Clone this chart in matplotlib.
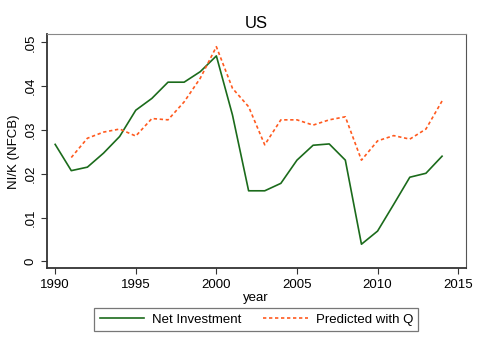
import matplotlib
matplotlib.use("Agg")
import matplotlib.pyplot as plt

plt.rcParams['font.family'] = ['Liberation Sans', 'DejaVu Sans']

# data
years = list(range(1990, 2015))
net_investment = [.0267, .0207, .0215, .0247, .0285, .0345, .0372, .0409, .0409,
                  .0433, .0469, .0334, .0161, .0161, .0178, .0231, .0265, .0268,
                  .0231, .0039, .0069, .0130, .0192, .0201, .0240]
pred_years = list(range(1991, 2015))
predicted_q = [.0237, .0281, .0295, .0302, .0286, .0326, .0323, .0364, .0418,
               .0490, .0395, .0353, .0266, .0323, .0323, .0311, .0323, .0330,
               .0231, .0275, .0287, .0279, .0302, .0366]
xticks = [1990, 1995, 2000, 2005, 2010, 2015]
yticks = [0, .01, .02, .03, .04, .05]
ytick_labels = ['0', '.01', '.02', '.03', '.04', '.05']

fig = plt.figure(figsize=(4.79, 3.48), dpi=100)
ax = fig.add_axes([0.098, 0.229, 0.874, 0.672])

ax.plot(years, net_investment, color='#1b6b1b', lw=1.2, label='Net Investment')
ax.plot(pred_years, predicted_q, color='#ff5a1f', lw=1.2, ls=(0, (2, 1.6)),
        label='Predicted with Q')

ax.set_xlim(1989.49, 2015.46)
ax.set_ylim(-0.0016, 0.0518)
ax.set_xticks(xticks)
ax.set_yticks(yticks)
ax.set_yticklabels(ytick_labels, rotation=90, va='center')
ax.tick_params(direction='out', length=4, width=0.8, labelsize=9.5, color='#333333')

for side in ['left', 'bottom']:
    ax.spines[side].set_color('#333333')
    ax.spines[side].set_linewidth(1.3)
ax.spines['top'].set_color('#888888')
ax.spines['right'].set_color('#555555')

ax.set_xlabel('year', fontsize=9.5, labelpad=1)
ax.set_ylabel('NI/K (NFCB)', fontsize=9.5, labelpad=3)
ax.set_title('US', fontsize=12, pad=5)

leg = fig.legend(loc='center', bbox_to_anchor=(0.535, 0.082), ncol=2, fontsize=9.5,
                 frameon=True, fancybox=False, edgecolor='#555555',
                 handlelength=3.4, handletextpad=0.6, columnspacing=1.6,
                 borderpad=0.4)
leg.get_frame().set_linewidth(0.9)

fig.savefig('out.png', dpi=100)
